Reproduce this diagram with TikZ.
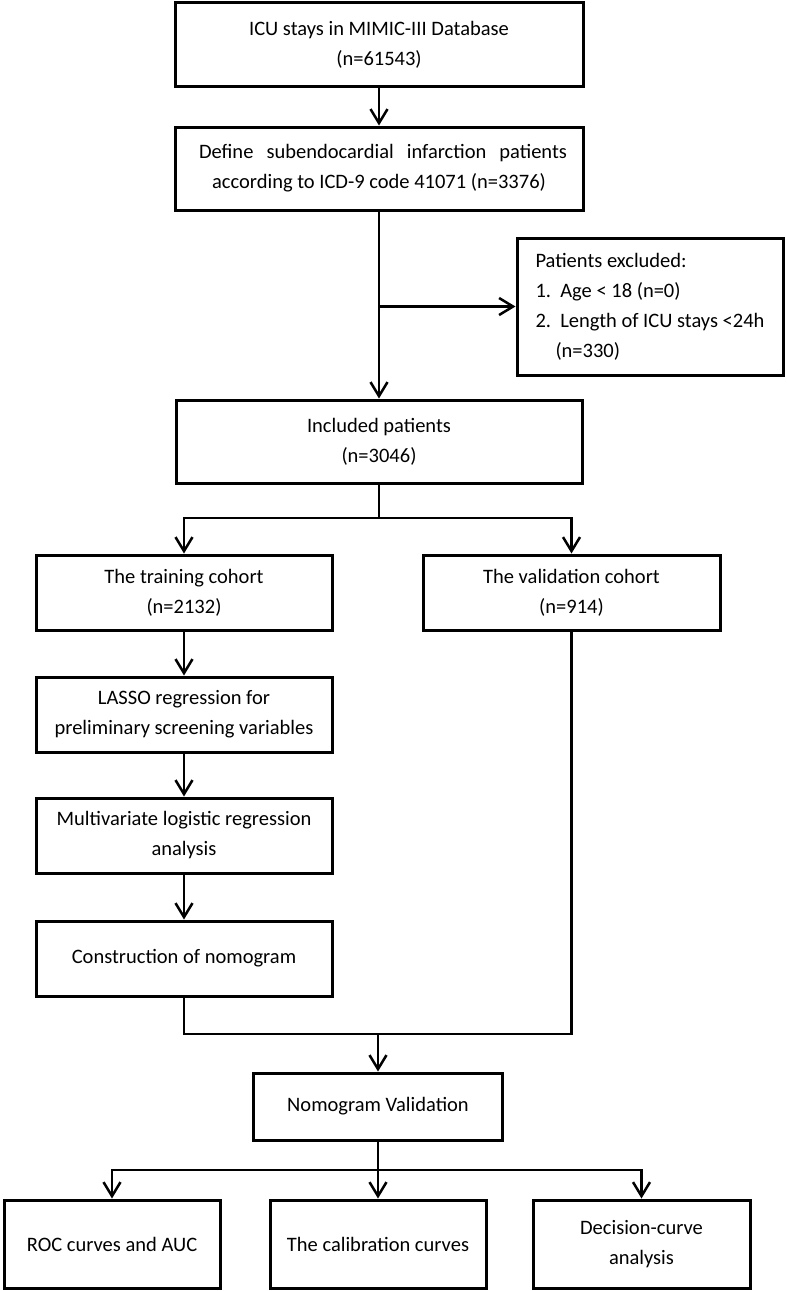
\documentclass[tikz,border=0pt]{standalone}
\usepackage{fontspec}
\setmainfont{Carlito}
\usetikzlibrary{arrows.meta}

\begin{document}
\begin{tikzpicture}[x=1pt,y=-1pt,
  box/.style={draw,line width=3pt,align=center,inner sep=0pt,font=\fontsize{20.5}{30}\selectfont},
  arr/.style={line width=2.5pt,-{Straight Barb[length=14pt,width=17pt,line width=2.5pt]}},
  ln/.style={line width=2.5pt}]
\useasboundingbox (0,0) rectangle (787,1291);
% main column
\node[box,minimum width=408,minimum height=84] (icu) at (379,44.5) {ICU stays in MIMIC-III Database\\(n=61543)};
\node[box,minimum width=408,minimum height=83] (define) at (379,168.5)
  {\hspace*{8pt}\makebox[368pt][s]{Define subendocardial infarction patients}\\according to ICD-9 code 41071 (n=3376)};
\node[box,minimum width=266,minimum height=137,align=left] (excl) at (650,306.5)
  {Patients excluded:\\1.\ \ Age < 18 (n=0)\\2.\ \ Length of ICU stays <24h\\\hspace*{20pt}(n=330)};
\node[box,minimum width=406,minimum height=83] (incl) at (379,441.5) {Included patients\\(n=3046)};
% cohorts
\node[box,minimum width=296,minimum height=75] (train) at (184,592.5) {The training cohort\\(n=2132)};
\node[box,minimum width=297,minimum height=75] (valid) at (571.5,592.5) {The validation cohort\\(n=914)};
\node[box,minimum width=296,minimum height=75] (lasso) at (184,714.5) {LASSO regression for\\preliminary screening variables};
\node[box,minimum width=296,minimum height=75] (multi) at (184,835.5) {Multivariate logistic regression\\analysis};
\node[box,minimum width=296,minimum height=75] (constr) at (184,958.5) {Construction of nomogram};
% validation
\node[box,minimum width=249,minimum height=67] (nomo) at (378,1106.5) {Nomogram Validation};
\node[box,minimum width=216,minimum height=88] (roc) at (112,1244) {ROC curves and AUC};
\node[box,minimum width=216,minimum height=88] (calib) at (378,1244) {The calibration curves};
\node[box,minimum width=217,minimum height=88] (dca) at (641.5,1244) {Decision-curve\\analysis};
\coordinate (split) at (379,518);
\coordinate (merge) at (378,1034);
\coordinate (split2) at (378,1170);
% connectors
\draw[arr] (icu) -- (define);
\draw[arr] (define) -- (incl);
\draw[arr] (define.south |- excl.west) -- (excl.west);
\draw[ln] (incl) -- (split);
\foreach \n in {train,valid}
\draw[arr] (split) -| (\n);
\draw[arr] (train) -- (lasso);
\draw[arr] (lasso) -- (multi);
\draw[arr] (multi) -- (constr);
\draw[ln] (constr.south) |- (merge);
\draw[ln] (valid.south) |- (merge);
\draw[arr] (merge) -- (nomo);
\draw[ln] (nomo) -- (split2);
\foreach \n in {roc,calib,dca}
\draw[arr] (split2) -| (\n);
\end{tikzpicture}
\end{document}
